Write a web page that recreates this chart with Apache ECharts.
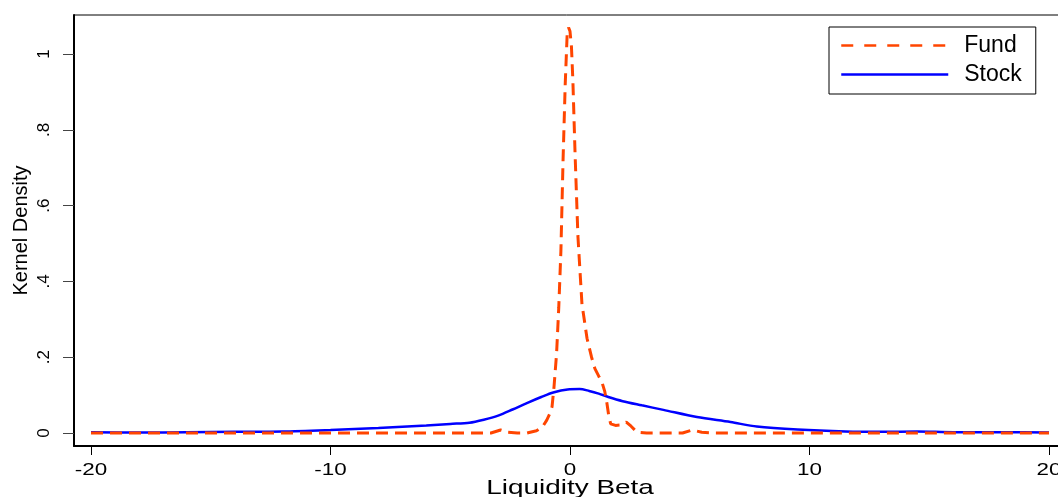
<!DOCTYPE html>
<html>
<head>
<meta charset="utf-8">
<script src="https://cdn.jsdelivr.net/npm/echarts@6/dist/echarts.min.js"></script>
<style>html,body{margin:0;padding:0;background:#fff}#c{width:1058px;height:497px}</style>
</head>
<body>
<div id="c"></div>
<script>
// ---- data ----
const fundX = [-20,-16,-12,-8,-5,-3.3,-2.9,-2.6,-2.2,-1.8,-1.4,-1.15,-0.97,-0.85,-0.75,-0.67,-0.56,-0.47,-0.38,-0.29,-0.2,-0.12,-0.06,0.0,0.06,0.12,0.21,0.33,0.5,0.71,0.9,1.04,1.2,1.33,1.45,1.54,1.62,1.7,1.9,2.1,2.35,2.55,2.8,3.2,4.7,5.1,5.5,6,10,14,18,20];
const fundY = [0,0,0,0,0,0,0.008,0.002,0,0,0.006,0.016,0.034,0.05,0.069,0.12,0.21,0.33,0.48,0.72,0.92,1.05,1.07,1.06,1.02,0.93,0.74,0.52,0.34,0.25,0.2,0.17,0.15,0.135,0.11,0.079,0.045,0.024,0.02,0.021,0.029,0.018,0.002,0,0,0.008,0.002,0,0,0,0,0];
const stockX = [-20,-18,-16,-14,-12,-10,-8,-6,-5,-4.2,-3.6,-3,-2.4,-1.8,-1.2,-0.7,-0.1,0.4,0.8,1.2,1.6,2.2,3,3.9,5.3,6.7,7.8,9.5,11.5,13,14.5,16,18,20];
const stockY = [0.002,0.001,0.002,0.003,0.004,0.008,0.013,0.02,0.024,0.027,0.035,0.046,0.062,0.079,0.095,0.107,0.115,0.116,0.111,0.104,0.095,0.084,0.073,0.061,0.042,0.029,0.017,0.009,0.004,0.003,0.004,0.002,0.002,0.001];
const xTicks = [-20,-10,0,10,20];
const xTickLabels = ['-20','-10','0','10','20'];
const yTicks = [0,0.2,0.4,0.6,0.8,1];
const yTickLabels = ['0','.2','.4','.6','.8','1'];
const seriesNames = ['Fund','Stock'];
const xTitle = 'Liquidity Beta';
const yTitle = 'Kernel Density';

const fundData = fundX.map((x,i)=>[x,fundY[i]]);
const stockData = stockX.map((x,i)=>[x,stockY[i]]);
const FONT = '"Liberation Sans", Arial, sans-serif';

const chart = echarts.init(document.getElementById('c'), null, {renderer:'canvas'});
chart.setOption({
  animation:false,
  backgroundColor:'#fff',
  textStyle:{fontFamily:FONT,color:'#000'},
  grid:[
    {left:74,right:-8,top:15,bottom:51,show:true,borderColor:'#000',borderWidth:1,backgroundColor:'#fff',containLabel:false,outerBoundsMode:'none'},
    {left:91,right:9,top:54,bottom:64,show:false,containLabel:false,outerBoundsMode:'none'}
  ],
  xAxis:[
    {type:'value',gridIndex:0,min:-20.71,max:20.71,
     axisLine:{show:true,onZero:false,lineStyle:{color:'#000',width:2}},
     axisTick:{show:false},axisLabel:{show:false},splitLine:{show:false}},
    {type:'value',gridIndex:1,min:xTicks[0],max:xTicks[xTicks.length-1],interval:10,
     offset:13,axisLine:{show:false,onZero:false},
     axisTick:{show:true,length:9,lineStyle:{color:'#000',width:1}},
     axisLabel:{show:false},
     splitLine:{show:false}}
  ],
  yAxis:[
    {type:'value',gridIndex:0,min:-0.0343,max:1.103,
     axisLine:{show:true,onZero:false,lineStyle:{color:'#000',width:2}},
     axisTick:{show:false},axisLabel:{show:false},splitLine:{show:false},
     name:yTitle,nameLocation:'middle',nameGap:43,
     nameTextStyle:{fontFamily:FONT,fontSize:20,color:'#000'}},
    {type:'value',gridIndex:1,min:0,max:1,interval:0.2,
     offset:17,axisLine:{show:false,onZero:false},
     axisTick:{show:true,length:11,lineStyle:{color:'#444',width:1}},
     axisLabel:{show:true,rotate:90,margin:21,fontFamily:FONT,fontSize:17,color:'#000',
       formatter:function(v){const i=yTicks.findIndex(t=>Math.abs(t-v)<1e-9);return i>=0?yTickLabels[i]:'';}},
     splitLine:{show:false}}
  ],
  legend:{
    orient:'vertical',left:829,top:27,
    backgroundColor:'#fff',borderColor:'#000',borderWidth:1,borderRadius:0,
    padding:[4,14,5,11],itemGap:0,itemWidth:107,itemHeight:14,
    itemStyle:{opacity:0},
    textStyle:{fontFamily:FONT,fontSize:23,color:'#000',lineHeight:29,padding:[0,0,0,11]},
    data:[
      {name:seriesNames[0],lineStyle:{type:[12,11],width:2.5}},
      {name:seriesNames[1],lineStyle:{width:2.5}}
    ]
  },
  series:[
    {name:seriesNames[0],type:'line',xAxisIndex:0,yAxisIndex:0,data:fundData,
     symbol:'none',smooth:false,z:3,
     lineStyle:{color:'#FF4500',width:3,type:[12,7]},itemStyle:{color:'#FF4500'}},
    {name:seriesNames[1],type:'line',xAxisIndex:0,yAxisIndex:0,data:stockData,
     symbol:'none',smooth:0.3,z:2,
     lineStyle:{color:'#0000FF',width:2.5,type:'solid'},itemStyle:{color:'#0000FF'}}
  ]
});

// x tick labels and x title as text placed through the axis scale (stretched like the reference)
const axisY = chart.convertToPixel({yAxisIndex:0}, -0.0343);
const graphics = xTickLabels.map((t,i)=>{
  const px = chart.convertToPixel({xAxisIndex:1}, xTicks[i]);
  return {type:'text',x:px,y:axisY+17,scaleX:1.4,silent:true,
    style:{text:t,font:'16px '+FONT,fill:'#000',align:'center',verticalAlign:'top'}};
});
const midX = (chart.convertToPixel({xAxisIndex:0}, -20.71)+chart.convertToPixel({xAxisIndex:0}, 20.71))/2;
graphics.push({type:'text',x:midX,y:axisY+32,scaleX:1.33,silent:true,
  style:{text:xTitle,font:'21px '+FONT,fill:'#000',align:'center',verticalAlign:'top'}});
chart.setOption({graphic:graphics});
</script>
</body>
</html>
